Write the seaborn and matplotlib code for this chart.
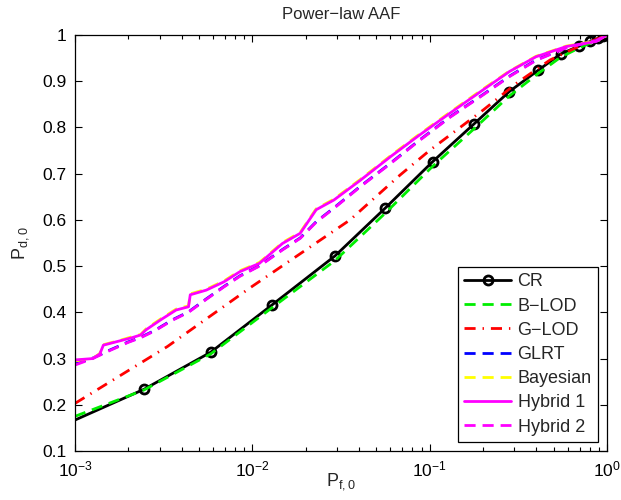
import numpy as np
import pandas as pd
import matplotlib
matplotlib.use("Agg")
import matplotlib.pyplot as plt
import seaborn as sns
from matplotlib.ticker import LogLocator, FixedLocator, FuncFormatter

# ---------------- data (log10 of P_f,0 and P_d,0) ----------------
cr_logx = [-3.0, -2.611, -2.235, -1.889, -1.534, -1.252, -0.983, -0.750,
           -0.551, -0.387, -0.261, -0.157, -0.095, -0.05, -0.02, 0.0]
cr_y = [0.167, 0.2335, 0.3136, 0.416, 0.522, 0.625, 0.726, 0.8076,
        0.8776, 0.924, 0.959, 0.976, 0.986, 0.993, 0.997, 1.0]

blod_logx = [-3.0, -2.611, -2.235, -1.889, -1.534, -1.252, -0.983, -0.750,
             -0.551, -0.387, -0.261, -0.157, -0.05, 0.0]
blod_y = [0.175, 0.232, 0.310, 0.410, 0.512, 0.614, 0.716, 0.797,
          0.868, 0.917, 0.952, 0.972, 0.990, 1.0]

glod_logx = [-3.0, -2.479, -2.013, -1.449, -1.167, -0.998, -0.697, -0.509,
             -0.321, -0.15, 0.0]
glod_y = [0.203, 0.326, 0.453, 0.600, 0.697, 0.751, 0.838, 0.896,
          0.946, 0.977, 1.0]

hyb1_logx = [-3.0, -2.9, -2.86, -2.84, -2.75, -2.68, -2.63, -2.60, -2.52,
             -2.43, -2.36, -2.35, -2.26, -2.16, -2.07, -1.96, -1.83, -1.73,
             -1.64, -1.54, -1.39, -1.22, -1.07, -0.885, -0.70, -0.55, -0.40,
             -0.23, -0.06, 0.0]
hyb1_y = [0.297, 0.300, 0.310, 0.329, 0.338, 0.345, 0.351, 0.362, 0.383,
          0.405, 0.412, 0.438, 0.448, 0.466, 0.488, 0.506, 0.549, 0.571,
          0.622, 0.643, 0.686, 0.737, 0.780, 0.831, 0.881, 0.921, 0.953,
          0.975, 0.986, 1.0]

bayes_logx = hyb1_logx
bayes_y = [0.295, 0.300, 0.311, 0.330, 0.339, 0.347, 0.352, 0.364, 0.385,
           0.407, 0.414, 0.440, 0.450, 0.468, 0.490, 0.508, 0.551, 0.573,
           0.624, 0.645, 0.688, 0.739, 0.782, 0.833, 0.883, 0.922, 0.954,
           0.976, 0.987, 1.0]

hyb2_logx = [-3.0, -2.9, -2.8, -2.7, -2.63, -2.55, -2.45, -2.36, -2.26,
             -2.16, -2.07, -1.96, -1.83, -1.73, -1.64, -1.54, -1.39, -1.22,
             -1.07, -0.885, -0.70, -0.55, -0.40, -0.23, -0.06, 0.0]
hyb2_y = [0.286, 0.300, 0.318, 0.335, 0.345, 0.360, 0.383, 0.400, 0.428,
          0.455, 0.478, 0.500, 0.535, 0.560, 0.595, 0.625, 0.672, 0.722,
          0.768, 0.822, 0.870, 0.910, 0.945, 0.972, 0.988, 1.0]

glrt_logx = hyb2_logx
glrt_y = [0.288, 0.301, 0.319, 0.336, 0.346, 0.361, 0.384, 0.401, 0.429,
          0.456, 0.479, 0.501, 0.536, 0.561, 0.596, 0.626, 0.673, 0.723,
          0.769, 0.823, 0.871, 0.911, 0.946, 0.973, 0.988, 1.0]

y_ticks = [0.1, 0.2, 0.3, 0.4, 0.5, 0.6, 0.7, 0.8, 0.9, 1.0]
x_ticks = [1e-3, 1e-2, 1e-1, 1e0]

# ---------------- styling ----------------
sns.set_style("ticks")
plt.rcParams['font.family'] = ['Liberation Sans', 'DejaVu Sans']
plt.rcParams['mathtext.default'] = 'regular'
plt.rcParams['axes.unicode_minus'] = True

fig = plt.figure(figsize=(6.21, 5.0), dpi=100)
ax = fig.add_axes([75 / 621, 49 / 500, 532 / 621, 416 / 500])

def draw(lx, y, **kw):
    df = pd.DataFrame({"x": np.power(10.0, lx), "y": y})
    sns.lineplot(data=df, x="x", y="y", ax=ax, sort=False,
                 estimator=None, **kw)

lw = 2.0
draw(cr_logx, cr_y, color="black", lw=lw, label="CR", marker="o",
     markersize=6.5, markerfacecolor="none", markeredgecolor="black",
     markeredgewidth=2, markevery=list(range(1, len(cr_logx))))
draw(blod_logx, blod_y, color="#00ee00", lw=lw, label="B\u2212LOD",
     dashes=(4, 2.5))
draw(glod_logx, glod_y, color="red", lw=lw, label="G\u2212LOD",
     dashes=(4, 2.5, 0.5, 2.5))
draw(glrt_logx, glrt_y, color="blue", lw=lw, label="GLRT", dashes=(4, 2.5))
draw(bayes_logx, bayes_y, color="yellow", lw=lw, label="Bayesian",
     dashes=(4, 2.5))
draw(hyb1_logx, hyb1_y, color="magenta", lw=lw, label="Hybrid 1")
draw(hyb2_logx, hyb2_y, color="magenta", lw=lw, label="Hybrid 2",
     dashes=(4, 2.5))

ax.set_xscale("log")
ax.set_xlim(1e-3, 1.0)
ax.set_ylim(0.1, 1.0)
ax.xaxis.set_major_locator(FixedLocator(x_ticks))
ax.xaxis.set_minor_locator(LogLocator(base=10, subs=np.arange(2, 10)))
ax.yaxis.set_major_locator(FixedLocator(y_ticks))
ax.yaxis.set_major_formatter(FuncFormatter(lambda v, p: f"{v:g}"))

ax.tick_params(which="both", direction="in", top=True, right=True,
               labelsize=12.5, width=0.8, color="black", labelcolor="black")
ax.tick_params(which="major", length=5, pad=6)
ax.tick_params(which="minor", length=3)
for s in ax.spines.values():
    s.set_visible(True)
    s.set_color("black")
    s.set_linewidth(0.9)

ax.set_title("Power\u2212law AAF", fontsize=12, pad=11.5)
ax.set_xlabel("P$_{f,0}$", fontsize=13, labelpad=-6)
ax.set_ylabel("P$_{d,0}$", fontsize=13, labelpad=8)

leg = ax.legend(loc="lower right", fontsize=13, handlelength=2.6,
                frameon=True, fancybox=False, framealpha=1,
                edgecolor="black", borderaxespad=0.5, labelspacing=0.4,
                handletextpad=0.35, borderpad=0.35)
leg.get_frame().set_linewidth(0.9)

fig.savefig("out.png", dpi=100)
